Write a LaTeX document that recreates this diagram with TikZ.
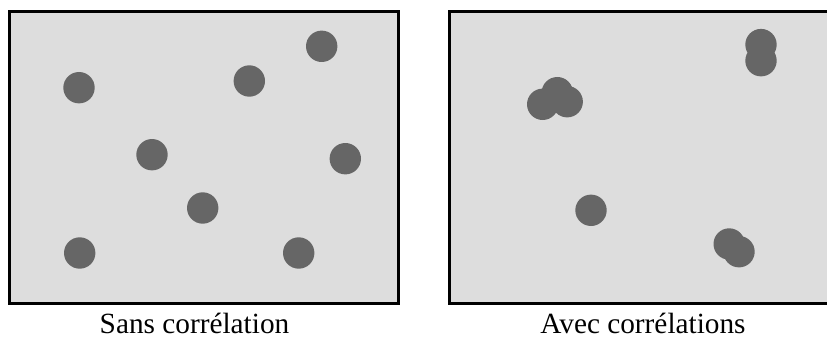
\documentclass[tikz,border=0pt]{standalone}
\usepackage{fontspec}
\setmainfont{Liberation Serif}
\begin{document}
\begin{tikzpicture}[x=1pt,y=1pt,
  panel/.style={draw=black,line width=3.3pt,fill=panelgray},
  dot/.style={circle,fill=dotgray,inner sep=0pt,minimum size=31.4pt},
  caption/.style={anchor=base,inner sep=0pt,font=\fontsize{29.3}{34}\selectfont}]
\definecolor{panelgray}{HTML}{DDDDDD}
\definecolor{dotgray}{HTML}{666666}
\useasboundingbox (0,0) rectangle (827,338);
\begin{scope}
\clip (0,0) rectangle (827,338);
% panels
\draw[panel] (9.7,{338-11.7}) rectangle (398.3,{338-303.4});
\draw[panel] (449.3,{338-11.6}) rectangle (832,{338-303.3});
% left dots
\node[dot] (l1) at (79,{338-87.7}) {};
\node[dot] (l2) at (249.3,{338-81}) {};
\node[dot] (l3) at (321.7,{338-46.3}) {};
\node[dot] (l4) at (152,{338-154.7}) {};
\node[dot] (l5) at (345.3,{338-158.7}) {};
\node[dot] (l6) at (202.7,{338-208}) {};
\node[dot] (l7) at (79.7,{338-253}) {};
\node[dot] (l8) at (298.7,{338-253}) {};
% right dots
\node[dot] (r1) at (542.7,{338-104.3}) {};
\node[dot] (r2) at (557.3,{338-92.7}) {};
\node[dot] (r3) at (567.2,{338-101.7}) {};
\node[dot] (r4) at (591,{338-210.3}) {};
\node[dot] (r5) at (729.2,{338-244}) {};
\node[dot] (r6) at (739,{338-251.7}) {};
\node[dot] (r7) at (761,{338-44.6}) {};
\node[dot] (r8) at (761,{338-60.7}) {};
\end{scope}
% captions
\node[caption] (capL) at (194.5,{338-333.4}) {Sans corrélation};
\node[caption] (capR) at (643,{338-333.4}) {Avec corrélations};
\end{tikzpicture}
\end{document}
